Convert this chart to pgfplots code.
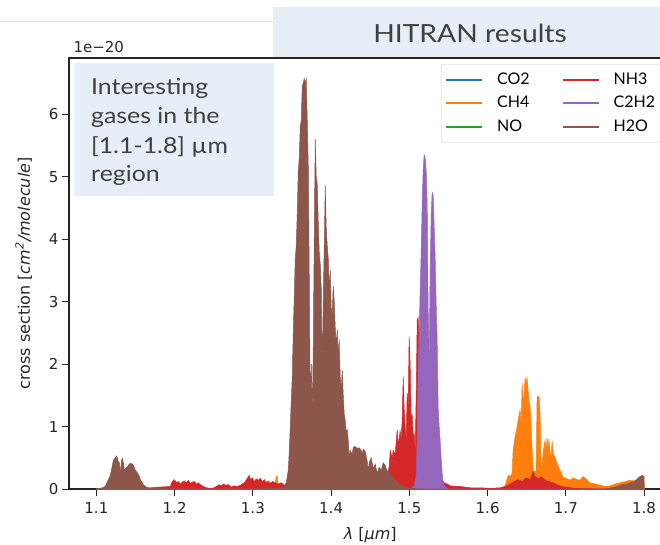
\documentclass[border=0pt]{standalone}
\usepackage{pgfplots}
\pgfplotsset{compat=1.18}
\usepackage{fontspec}
\setmainfont{DejaVu Sans}
\newfontfamily\gill{Lato}
\newfontfamily\gillw[FakeStretch=1.13]{Lato}
\definecolor{cCO}{HTML}{1F77B4}
\definecolor{cCH}{HTML}{FF7F0E}
\definecolor{cNO}{HTML}{2CA02C}
\definecolor{cNH}{HTML}{D62728}
\definecolor{cCC}{HTML}{9467BD}
\definecolor{cHO}{HTML}{8C564B}
\definecolor{boxblue}{RGB}{232,238,247}
\definecolor{txtgray}{HTML}{404040}
\begin{document}
\begin{tikzpicture}[x=1pt,y=1pt]
\useasboundingbox (0,0) rectangle (660,544);
\clip (0,0) rectangle (660,544);
\draw[black!10, line width=1pt] (0,522) -- (273,522);
\begin{axis}[
  at={(69pt,55pt)}, anchor=south west, scale only axis,
  width=602.5pt, height=431pt,
  xmin=1.065, xmax=1.835, ymin=0, ymax=6.9,
  xtick={1.1,1.2,1.3,1.4,1.5,1.6,1.7,1.8},
  xticklabels={1.1,1.2,1.3,1.4,1.5,1.6,1.7,1.8},
  ytick={0,1,2,3,4,5,6},
  yticklabels={0,1,2,3,4,5,6},
  tick pos=left, tick align=outside, major tick length=7pt,
  every tick/.style={black!85, line width=1pt},
  axis line style={black!85, line width=1.2pt},
  ticklabel style={font=\fontsize{15}{18}\selectfont, text=black!85},
  xticklabel shift=3pt,
  /pgf/number format/assume math mode=true,
  xlabel={\textit{λ} [\textit{µm}]},
  ylabel={cross section [\textit{cm\textsuperscript{2}/molecule}]},
  xlabel shift=7pt,
  ylabel shift=10pt,
  label style={font=\fontsize{16}{19}\selectfont, text=black!85},
  legend image code/.code={\draw[#1, line width=2pt] (0pt,0pt) -- (36pt,0pt);},
  legend columns=2,
  legend cell align=left,
  legend style={at={(0.6174,0.986)}, anchor=north west, draw=black!20,
    rounded corners=3pt, fill=white, font=\gill\fontsize{16}{19}\selectfont,
    inner xsep=4pt, inner ysep=6pt, row sep=4.5pt,
    nodes={inner sep=2pt, text height=12pt, text depth=3pt},
    /tikz/every odd column/.append style={column sep=12pt},
    /tikz/every even column/.append style={column sep=30pt}},
]
\addlegendimage{cCO}\addlegendentry{CO2}
\addlegendimage{cNH}\addlegendentry{NH3}
\addlegendimage{cCH}\addlegendentry{CH4}
\addlegendimage{cCC}\addlegendentry{C2H2}
\addlegendimage{cNO}\addlegendentry{NO}
\addlegendimage{cHO}\addlegendentry{H2O}

% CO2
\addplot[draw=cCO, line width=0.6pt, forget plot] coordinates {
(1.1,0) (1.42,0) (1.43,0.003) (1.44,0) (1.57,0) (1.58,0.004) (1.6,0.003) (1.61,0) (1.8,0)};
% CH4
\addplot[draw=cCH, fill=cCH, line width=0.5pt, forget plot] coordinates {
(1.1,0) (1.30,0) (1.3248,0.02) (1.3286,0.1) (1.3299,0.2) (1.3312,0.21) (1.3324,0.05)
(1.3363,0.02) (1.34,0.05) (1.35,0) (1.60,0) (1.616,0.01) (1.6223,0.05) (1.6262,0.22)
(1.6287,0.2) (1.6313,0.25) (1.6326,0.62) (1.6351,0.84) (1.6377,1.0) (1.6389,1.1)
(1.6415,1.27) (1.6428,1.0) (1.6441,1.7) (1.6453,1.37) (1.6466,1.5) (1.6479,1.78)
(1.6492,1.7) (1.6505,1.78) (1.6517,1.59) (1.653,1.4) (1.6543,1.32) (1.6556,1.0)
(1.6568,0.68) (1.6581,0.3) (1.6607,0.27) (1.662,0.3) (1.6632,1.48) (1.6658,1.48)
(1.6671,1.2) (1.6683,0.25) (1.6696,0.4) (1.6709,0.57) (1.6722,0.7) (1.6734,0.78)
(1.6747,0.6) (1.676,0.82) (1.6773,0.65) (1.6785,0.8) (1.6798,0.6) (1.6811,0.5)
(1.6824,0.77) (1.6837,0.57) (1.6862,0.5) (1.6888,0.41) (1.6926,0.3) (1.6964,0.19)
(1.7003,0.17) (1.7054,0.14) (1.7092,0.18) (1.7143,0.15) (1.7181,0.14) (1.722,0.2)
(1.7258,0.16) (1.7309,0.1) (1.7373,0.08) (1.7437,0.06) (1.7501,0.04) (1.7564,0.05)
(1.7628,0.08) (1.7692,0.1) (1.7756,0.12) (1.782,0.14) (1.7884,0.13) (1.7948,0.15)
(1.8,0.12) (1.8005,0)} \closedcycle;
% NO
\addplot[draw=cNO, line width=0.6pt, forget plot] coordinates {
(1.1,0) (1.8,0)};
% NH3
\addplot[draw=cNH, fill=cNH, line width=0.5pt, forget plot] coordinates {
(1.1,0) (1.16,0.01) (1.17,0.02) (1.18,0.03) (1.1945,0.04) (1.197,0.12) (1.1996,0.15)
(1.2022,0.1) (1.2047,0.12) (1.2073,0.08) (1.2098,0.11) (1.2124,0.13) (1.2149,0.1)
(1.2175,0.14) (1.22,0.09) (1.2226,0.11) (1.2252,0.12) (1.2277,0.08) (1.2303,0.1)
(1.2328,0.07) (1.2367,0.04) (1.2405,0.02) (1.2456,0.01) (1.2507,0.02) (1.2545,0.05)
(1.2571,0.07) (1.2596,0.05) (1.2622,0.08) (1.2648,0.06) (1.2686,0.07) (1.2724,0.03)
(1.2762,0.05) (1.2801,0.04) (1.2839,0.06) (1.2877,0.09) (1.2903,0.12) (1.2928,0.17)
(1.2954,0.22) (1.2967,0.15) (1.2992,0.18) (1.3018,0.12) (1.3043,0.16) (1.3069,0.14)
(1.3095,0.17) (1.312,0.12) (1.3146,0.15) (1.3171,0.1) (1.3197,0.13) (1.3222,0.09)
(1.3248,0.12) (1.3286,0.1) (1.3324,0.08) (1.3363,0.1) (1.3401,0.06) (1.40,0.1)
(1.4704,0.2) (1.4742,0.35) (1.4755,0.62) (1.478,0.5) (1.4793,0.62) (1.4818,0.55)
(1.4844,0.95) (1.4857,0.7) (1.4882,0.93) (1.4895,0.8) (1.4908,1.1) (1.4921,1.8)
(1.4933,1.3) (1.4946,1.0) (1.4959,0.78) (1.4972,1.54) (1.4985,1.3) (1.4997,2.44)
(1.501,2.0) (1.5023,1.05) (1.5036,1.2) (1.5049,0.8) (1.5061,0.9) (1.5074,0.6)
(1.5087,1.5) (1.51,2.7) (1.5112,2.75) (1.5138,2.0) (1.5202,1.5) (1.5266,1.0)
(1.533,0.6) (1.5393,0.3) (1.5419,0.15) (1.5444,0.1) (1.5483,0.08) (1.5521,0.05)
(1.5649,0.04) (1.5776,0.02) (1.5904,0.02) (1.6032,0.01) (1.616,0.02) (1.6223,0.04)
(1.6287,0.08) (1.6338,0.12) (1.6389,0.15) (1.6441,0.12) (1.6492,0.18) (1.6543,0.15)
(1.6581,0.28) (1.6607,0.2) (1.6645,0.16) (1.6683,0.2) (1.6734,0.14) (1.6785,0.12)
(1.6837,0.1) (1.69,0.06) (1.699,0.03) (1.7117,0.01) (1.75,0) (1.8,0)} \closedcycle;
% C2H2
\addplot[draw=cCC, fill=cCC, line width=0.5pt, forget plot] coordinates {
(1.1,0) (1.50,0) (1.5036,0.02) (1.5061,0.05) (1.5087,0.2) (1.51,0.8) (1.5112,1.85)
(1.5125,2.5) (1.5138,3.2) (1.5151,3.8) (1.5164,4.6) (1.5176,5.1) (1.5189,5.35)
(1.5202,5.3) (1.5215,5.1) (1.5227,4.6) (1.524,2.9) (1.5253,2.07) (1.5266,3.5)
(1.5279,4.4) (1.5291,4.75) (1.5304,4.7) (1.5317,4.2) (1.533,3.7) (1.5342,3.0)
(1.5355,2.4) (1.5368,1.3) (1.5381,1.0) (1.5393,0.79) (1.5406,0.5) (1.5419,0.26)
(1.5432,0.1) (1.5457,0.03) (1.55,0) (1.8,0)} \closedcycle;
% H2O
\addplot[draw=cHO, fill=cHO, line width=0.5pt, forget plot] coordinates {
(1.1,0) (1.105,0.01) (1.11,0.03) (1.1115,0.05) (1.1153,0.15) (1.1179,0.22) (1.1204,0.38)
(1.1217,0.46) (1.1243,0.5) (1.1255,0.53) (1.1268,0.5) (1.128,0.44) (1.1294,0.42)
(1.1307,0.25) (1.132,0.45) (1.1332,0.49) (1.1345,0.42) (1.1358,0.3) (1.137,0.33)
(1.1396,0.36) (1.1421,0.4) (1.1434,0.41) (1.146,0.4) (1.1473,0.38) (1.1498,0.3)
(1.1524,0.26) (1.155,0.2) (1.1562,0.15) (1.1588,0.1) (1.16,0.07) (1.164,0.03)
(1.169,0.01) (1.18,0.005) (1.2,0) (1.3,0) (1.335,0.02) (1.3388,0.03) (1.3427,0.1)
(1.3452,0.3) (1.3465,0.6) (1.3478,1.0) (1.349,1.4) (1.3503,1.8) (1.3516,2.5)
(1.3529,3.1) (1.3541,3.67) (1.3554,3.9) (1.3567,4.4) (1.358,5.1) (1.3593,5.3)
(1.3605,5.8) (1.3618,5.9) (1.3631,6.45) (1.3644,6.5) (1.3656,6.57) (1.3669,6.5)
(1.3682,6.57) (1.3695,5.9) (1.3708,5.16) (1.372,3.5) (1.3733,1.4) (1.3746,2.0)
(1.3759,1.2) (1.3771,2.2) (1.3784,4.0) (1.3797,5.6) (1.381,5.0) (1.3822,4.9)
(1.3835,4.3) (1.3848,3.8) (1.3861,3.6) (1.3874,3.2) (1.3886,1.9) (1.3899,3.0)
(1.3912,3.9) (1.3925,4.85) (1.3937,4.2) (1.395,3.9) (1.3963,3.7) (1.3976,3.2)
(1.3989,3.5) (1.4001,2.9) (1.4014,2.8) (1.4027,3.25) (1.404,3.0) (1.4052,2.6)
(1.4065,2.3) (1.4078,2.55) (1.4091,2.1) (1.4103,2.4) (1.4116,1.8) (1.4129,1.6)
(1.4142,1.9) (1.4155,1.5) (1.4167,1.2) (1.418,1.1) (1.4193,0.9) (1.4206,0.95)
(1.4218,0.79) (1.4231,0.5) (1.4244,0.62) (1.427,0.55) (1.4282,0.67) (1.4308,0.68)
(1.4333,0.65) (1.4359,0.66) (1.4384,0.62) (1.4397,0.55) (1.441,0.64) (1.4436,0.6)
(1.4461,0.45) (1.4474,0.3) (1.4487,0.42) (1.4512,0.5) (1.4538,0.33) (1.4563,0.4)
(1.4589,0.25) (1.4614,0.35) (1.464,0.3) (1.4665,0.42) (1.4691,0.38) (1.4716,0.28)
(1.4742,0.3) (1.478,0.2) (1.4831,0.12) (1.4882,0.07) (1.4946,0.03) (1.501,0.01)
(1.52,0) (1.75,0) (1.7628,0.03) (1.7718,0.07) (1.7782,0.08) (1.782,0.1) (1.7871,0.12)
(1.791,0.16) (1.7948,0.2) (1.7973,0.22) (1.7999,0.2) (1.8,0)} \closedcycle;
\end{axis}
\node[anchor=base west, font=\fontsize{15}{18}\selectfont, text=black!85] at (70,491) {1e−20};
\fill[boxblue] (273,487) rectangle (665,537);
\node[anchor=base, font=\gillw\fontsize{25}{30}\selectfont, text=txtgray] at (470,501) {HITRAN results};
\fill[boxblue] (74,348) rectangle (274,481);
\begin{scope}[every node/.style={anchor=base west, font=\gillw\fontsize{22}{26}\selectfont, text=txtgray, inner sep=0pt}]
\node at (91,449) {Interesting};
\node at (91,420) {gases in the};
\node at (91,390) {[1.1-1.8] µm};
\node at (91,362) {region};
\end{scope}
\end{tikzpicture}
\end{document}
